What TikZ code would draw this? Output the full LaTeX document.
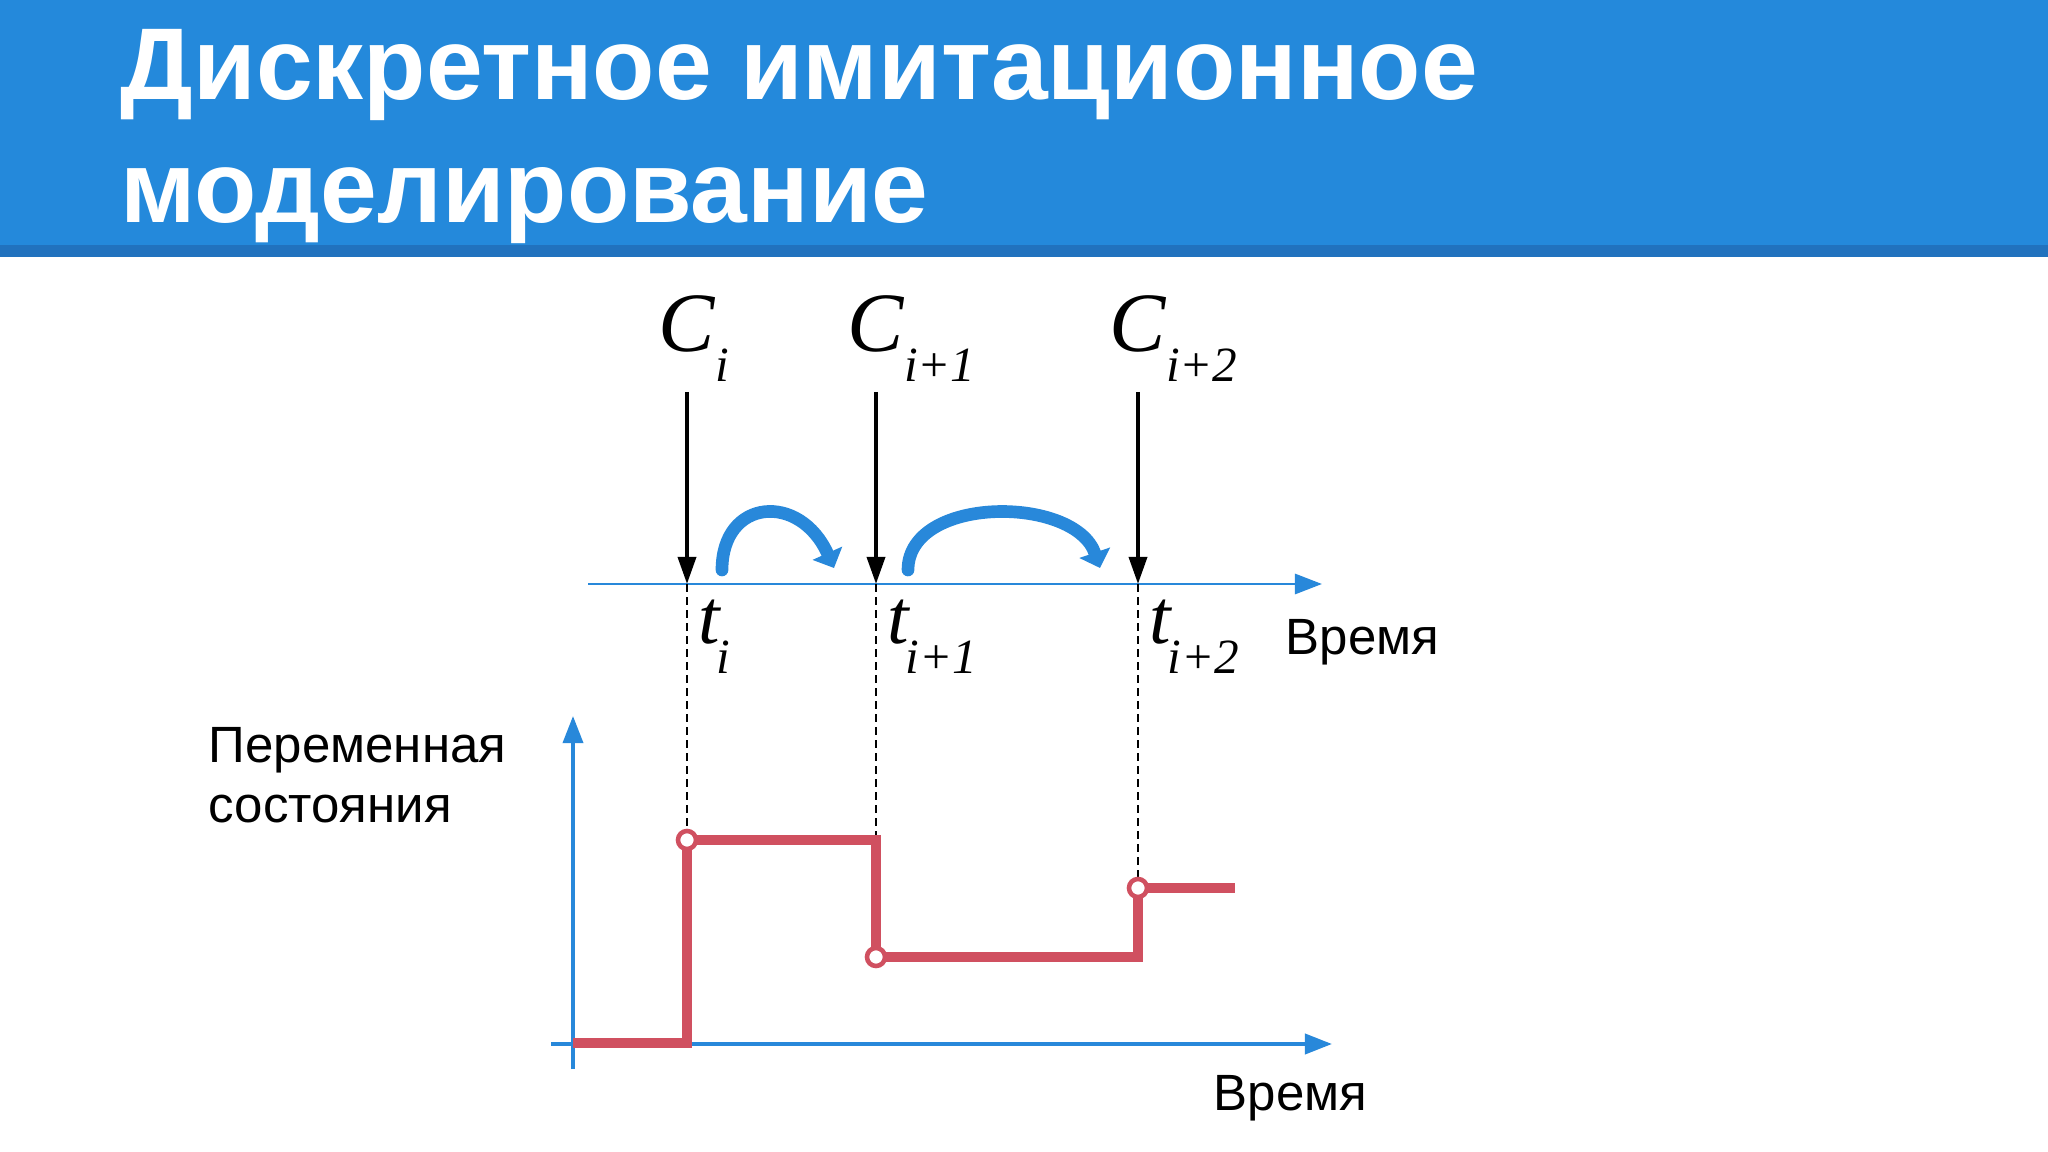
\documentclass[tikz,border=0pt]{standalone}
\usepackage{fontspec}
\setmainfont{Liberation Sans}
\newfontfamily\serifit{Liberation Serif}
\usetikzlibrary{arrows.meta}
\definecolor{headblue}{RGB}{36,137,219}
\definecolor{headdark}{RGB}{33,114,190}
\definecolor{axisblue}{RGB}{40,136,218}
\definecolor{statered}{RGB}{208,80,96}
\begin{document}
\begin{tikzpicture}[x=0.01cm,y=-0.01cm,
    timeaxis/.style={axisblue,line width=0.85pt,-{Triangle[length=7.7pt,width=5.7pt]}},
    eventarrow/.style={black,line width=1.1pt,-{Triangle[length=7.7pt,width=5.1pt]}},
    hop/.style={axisblue,line width=3.6pt,line cap=round,-{Triangle[length=4.6pt,width=9pt]}},
    guide/.style={black,line width=0.55pt,dash pattern=on 2.3pt off 1.4pt},
    statepath/.style={statered,line width=2.6pt},
    jump/.style={circle,draw=statered,fill=white,line width=1.3pt,minimum size=0.18cm,inner sep=0pt},
    titletext/.style={anchor=base west,inner sep=0pt,white,font=\bfseries\fontsize{29}{29}\selectfont},
    plaintext/.style={anchor=base west,inner sep=0pt,font=\fontsize{14.5}{17}\selectfont},
    sym/.style={anchor=base west,inner sep=0pt,font=\serifit\itshape\fontsize{24}{24}\selectfont}]
    \useasboundingbox (0,0) rectangle (2048,1152);
    \fill[white] (0,0) rectangle (2048,1152);
    %% header
    \fill[headblue] (0,0) rectangle (2048,245);
    \fill[headdark] (0,245) rectangle (2048,257);
    \node[titletext] (title1) at (120,100) {Дискретное имитационное};
    \node[titletext] (title2) at (120,223) {моделирование};
    %% time axis with events
    \coordinate (taxl) at (588,584);
    \coordinate (taxr) at (1322,584);
    \draw[timeaxis] (taxl) -- (taxr);
    \node[plaintext] (time1) at (1285,655) {Время};
    \foreach \x/\y/\n/\s in {687/840/1/i, 876/957/2/i+1, 1138/888/3/i+2} {
        \coordinate (top\n) at (\x,392);
        \coordinate (tk\n) at (\x,584);
        \coordinate (s\n) at (\x,\y);
        \node[sym] (c\n) at (\x-29,352) {C\raisebox{-8.5pt}{\fontsize{14}{14}\selectfont\s}};
        \node[sym] (t\n) at (\x+11,643) {\fontsize{22}{22}\selectfont t\kern-1pt\raisebox{-8.8pt}{\fontsize{14}{14}\selectfont\s}};
        \draw[eventarrow] (top\n) -- (tk\n);
        \draw[guide] (tk\n) -- (s\n);
    }
    %% jumps between events
    \coordinate (h1a) at (722,570);
    \coordinate (h1b) at (834,568);
    \coordinate (h2a) at (908,570);
    \coordinate (h2b) at (1100,568);
    \draw[hop] (h1a) .. controls (722,498) and (800,492) .. (h1b);
    \draw[hop] (h2a) .. controls (908,495) and (1075,495) .. (h2b);
    %% state variable
    \node[plaintext] (var1) at (208,762) {Переменная};
    \node[plaintext] (var2) at (208,822) {состояния};
    \coordinate (yb) at (573,1069);
    \coordinate (yt) at (573,716);
    \coordinate (xl) at (551,1044);
    \coordinate (xr) at (1332,1044);
    \draw[timeaxis,line width=1pt] (yb) -- (yt);
    \draw[timeaxis,line width=1.1pt] (xl) -- (xr);
    \node[plaintext] (time2) at (1213,1110) {Время};
    \coordinate (o) at (573,1043);
    \coordinate (send) at (1235,888);
    \draw[statepath] (o) -| (s1) -| (s2) -| (s3) -- (send);
    \foreach \n in {1,2,3} \node[jump] (m\n) at (s\n) {};
\end{tikzpicture}
\end{document}
